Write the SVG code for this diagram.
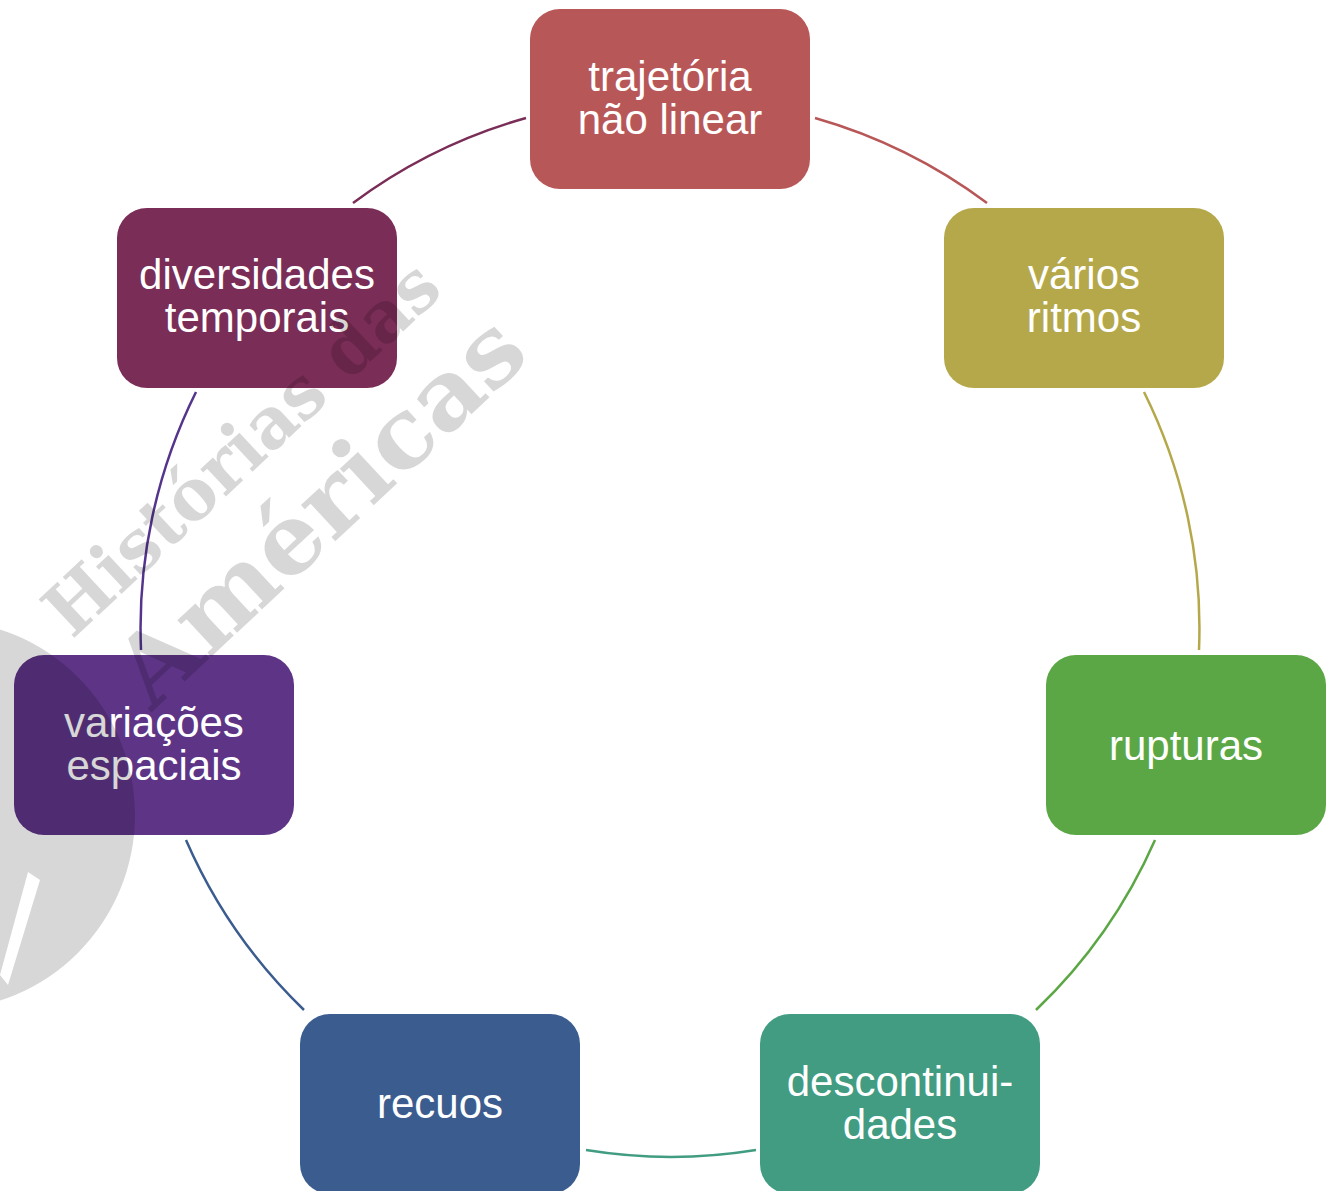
<svg xmlns="http://www.w3.org/2000/svg" width="1340" height="1191" viewBox="0 0 1340 1191">
<style>
.lbl{font-family:"Liberation Sans",Arial,sans-serif;font-size:42px;fill:#ffffff;text-anchor:middle}
.arc{fill:none;stroke-width:2.5}
.wm{font-family:"DejaVu Serif","Liberation Serif",serif;font-weight:bold;fill:#000000}
</style>
<rect width="1340" height="1191" fill="#ffffff"/>
<g id="connectors">
<path class="arc" stroke="#B85757" d="M815,118 A530,530 0 0 1 987,203"/>
<path class="arc" stroke="#B5A84A" d="M1144,392 A530,530 0 0 1 1199,650"/>
<path class="arc" stroke="#5CA745" d="M1155,840 A530,530 0 0 1 1036,1010"/>
<path class="arc" stroke="#419C82" d="M756,1150 A530,530 0 0 1 586,1150"/>
<path class="arc" stroke="#3B5C8F" d="M304,1010 A530,530 0 0 1 186,840"/>
<path class="arc" stroke="#55358C" d="M141,650 A530,530 0 0 1 196,392"/>
<path class="arc" stroke="#7A2D57" d="M353,203 A530,530 0 0 1 526,118"/>
</g>
<g id="node-trajetoria">
<rect x="530" y="9" width="280" height="180" rx="30" fill="#B85757"/>
<text class="lbl" x="670" y="91">trajetória</text>
<text class="lbl" x="670" y="134">não linear</text>
</g>
<g id="node-varios">
<rect x="944" y="208" width="280" height="180" rx="30" fill="#B5A84A"/>
<text class="lbl" x="1084" y="289">vários</text>
<text class="lbl" x="1084" y="332">ritmos</text>
</g>
<g id="node-rupturas">
<rect x="1046" y="655" width="280" height="180" rx="30" fill="#5CA745"/>
<text class="lbl" x="1186" y="760">rupturas</text>
</g>
<g id="node-descontinuidades">
<rect x="760" y="1014" width="280" height="180" rx="30" fill="#419C82"/>
<text class="lbl" x="900" y="1096">descontinui-</text>
<text class="lbl" x="900" y="1139">dades</text>
</g>
<g id="node-recuos">
<rect x="300" y="1014" width="280" height="180" rx="30" fill="#3B5C8F"/>
<text class="lbl" x="440" y="1118">recuos</text>
</g>
<g id="node-variacoes">
<rect x="14" y="655" width="280" height="180" rx="30" fill="#5E3586"/>
<text class="lbl" x="154" y="737">variações</text>
<text class="lbl" x="154" y="780">espaciais</text>
</g>
<g id="node-diversidades">
<rect x="117" y="208" width="280" height="180" rx="30" fill="#7A2D57"/>
<text class="lbl" x="257" y="289">diversidades</text>
<text class="lbl" x="257" y="332">temporais</text>
</g>
<g id="watermark" opacity="0.16">
<path d="M-60,620 A195,195 0 1 1 -60,1010 A195,195 0 1 1 -60,620 Z M0,975 L8,985 L40,880 L28,872 Z" fill="#000000" fill-rule="evenodd"/>
<text class="wm" font-size="72" textLength="510" lengthAdjust="spacingAndGlyphs" transform="translate(72,640) rotate(-43)">Histórias das</text>
<text class="wm" font-size="96" textLength="520" lengthAdjust="spacingAndGlyphs" transform="translate(152,712) rotate(-43)">Américas</text>
</g>
</svg>
